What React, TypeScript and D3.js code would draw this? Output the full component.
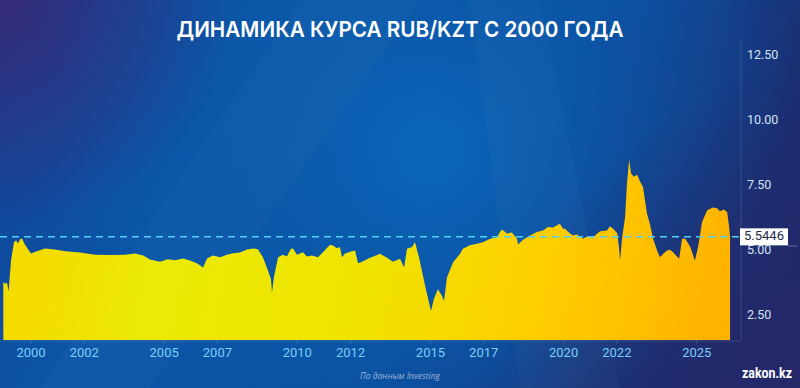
import React from "react";
import * as d3 from "d3";

const TITLE = "ДИНАМИКА КУРСА RUB/KZT С 2000 ГОДА";
const SOURCE = "По данным Investing";
const LOGO = "zakon.kz";
const CURRENT_VALUE = 5.5446;

const years: number[] = [
  1998.96, 1999.02, 1999.1, 1999.16, 1999.25, 1999.36, 1999.44, 1999.51, 1999.59, 1999.66, 1999.77,
  2000.0, 2000.19, 2000.53, 2000.9, 2001.28, 2001.84, 2002.4, 2002.97, 2003.53, 2003.91, 2004.21,
  2004.47, 2004.84, 2005.14, 2005.41, 2005.71, 2005.97, 2006.23, 2006.46, 2006.61, 2006.83, 2007.1,
  2007.36, 2007.59, 2007.85, 2008.11, 2008.34, 2008.52, 2008.71, 2008.9, 2009.01, 2009.05, 2009.13,
  2009.28, 2009.46, 2009.61, 2009.76, 2009.84, 2009.99, 2010.21, 2010.36, 2010.55, 2010.78, 2010.96,
  2011.23, 2011.34, 2011.49, 2011.6, 2011.68, 2011.79, 2012.05, 2012.17, 2012.28, 2012.43, 2012.73,
  2013.11, 2013.37, 2013.59, 2013.86, 2014.01, 2014.12, 2014.31, 2014.42, 2014.57, 2014.8, 2015.02,
  2015.13, 2015.28, 2015.43, 2015.51, 2015.62, 2015.85, 2016.11, 2016.22, 2016.48, 2016.75, 2016.97,
  2017.24, 2017.5, 2017.61, 2017.69, 2017.87, 2018.06, 2018.25, 2018.29, 2018.48, 2018.74, 2019.0,
  2019.23, 2019.41, 2019.6, 2019.86, 2019.98, 2020.05, 2020.24, 2020.35, 2020.5, 2020.73, 2020.88,
  2021.1, 2021.37, 2021.63, 2021.74, 2021.86, 2022.01, 2022.08, 2022.12, 2022.2, 2022.31, 2022.38,
  2022.46, 2022.53, 2022.64, 2022.76, 2022.87, 2022.98, 2023.13, 2023.24, 2023.36, 2023.51, 2023.62,
  2023.74, 2023.89, 2024.0, 2024.11, 2024.26, 2024.34, 2024.45, 2024.57, 2024.76, 2024.93, 2025.05,
  2025.2, 2025.39, 2025.61, 2025.76, 2025.87, 2026.02, 2026.14, 2026.21, 2026.25,
];

const rates: number[] = [
  3.82, 3.74, 3.78, 3.44, 4.63, 5.34, 5.41, 5.29, 5.45, 5.48, 5.25,
  4.9, 4.98, 5.1, 5.06, 4.99, 4.94, 4.86, 4.85, 4.86, 4.9, 4.83,
  4.67, 4.59, 4.68, 4.64, 4.71, 4.63, 4.53, 4.37, 4.71, 4.83, 4.76,
  4.86, 4.91, 4.94, 5.06, 5.1, 5.07, 4.76, 4.24, 3.92, 3.4, 4.05,
  4.76, 4.86, 4.79, 5.09, 5.1, 4.86, 4.95, 4.79, 4.83, 4.76, 4.95,
  5.24, 5.21, 5.11, 5.15, 4.76, 4.9, 4.99, 5.02, 4.53, 4.59, 4.74,
  4.89, 4.74, 4.59, 4.7, 4.37, 5.09, 5.15, 5.34, 4.76, 3.66, 2.69,
  3.15, 3.53, 3.28, 3.08, 3.98, 4.57, 4.89, 5.09, 5.22, 5.28, 5.34,
  5.47, 5.53, 5.73, 5.83, 5.67, 5.71, 5.47, 5.25, 5.43, 5.6, 5.73,
  5.79, 5.92, 5.9, 6.05, 5.86, 5.86, 5.67, 5.6, 5.63, 5.47, 5.56,
  5.53, 5.76, 5.79, 5.95, 5.86, 5.69, 5.15, 4.63, 5.53, 6.31, 7.6,
  8.51, 7.99, 7.86, 7.93, 7.67, 7.47, 6.44, 6.05, 5.47, 5.02, 4.76,
  4.89, 5.02, 5.05, 4.95, 4.79, 4.7, 5.47, 5.47, 5.15, 4.63, 5.15,
  6.12, 6.57, 6.67, 6.64, 6.53, 6.6, 6.5, 5.99, 5.5446,
];

const xTickYears: number[] = [2000, 2002, 2005, 2007, 2010, 2012, 2015, 2017, 2020, 2022, 2025];
const yTickValues: number[] = [2.5, 5, 7.5, 10, 12.5];

const W = 800;
const H = 388;
const PLOT_BOTTOM = 340;
const AXIS_X = 741;

export default function App() {
  const data = years.map((yr, i) => ({ yr, v: rates[i] }));
  const x = d3.scaleLinear().domain([2000, 2025]).range([31, 31 + 25 * 26.63]);
  const y = d3.scaleLinear().domain([2.5, 12.5]).range([316, 56]);

  const area = d3
    .area<{ yr: number; v: number }>()
    .x((d) => x(d.yr))
    .y0(PLOT_BOTTOM)
    .y1((d) => y(d.v))
    .curve(d3.curveLinear);

  const lastX = x(years[years.length - 1]);
  const curY = y(CURRENT_VALUE);

  return (
    <svg
      width={W}
      height={H}
      viewBox={`0 0 ${W} ${H}`}
      style={{ position: "absolute", left: 0, top: 0, display: "block" }}
    >
      <defs>
        <linearGradient id="bgBase" x1="0" y1="0" x2="1" y2="0.3">
          <stop offset="0" stopColor="#123f93" />
          <stop offset="0.35" stopColor="#0b56a8" />
          <stop offset="0.7" stopColor="#0d4d9e" />
          <stop offset="1" stopColor="#1d2a6c" />
        </linearGradient>
        <radialGradient id="bgGlow" cx="430" cy="150" r="380" gradientUnits="userSpaceOnUse">
          <stop offset="0" stopColor="#0a66bb" stopOpacity="0.95" />
          <stop offset="0.55" stopColor="#0a5aab" stopOpacity="0.5" />
          <stop offset="1" stopColor="#0a5aab" stopOpacity="0" />
        </radialGradient>
        <radialGradient id="cornerTL" cx="0" cy="0" r="230" gradientUnits="userSpaceOnUse">
          <stop offset="0" stopColor="#3a2a78" stopOpacity="0.9" />
          <stop offset="1" stopColor="#3a2a78" stopOpacity="0" />
        </radialGradient>
        <radialGradient id="cornerBR" cx="800" cy="388" r="300" gradientUnits="userSpaceOnUse">
          <stop offset="0" stopColor="#262868" stopOpacity="0.9" />
          <stop offset="1" stopColor="#262868" stopOpacity="0" />
        </radialGradient>
        <linearGradient
          id="areaFill"
          gradientUnits="userSpaceOnUse"
          x1="60"
          y1="200"
          x2="730"
          y2="345"
        >
          <stop offset="0" stopColor="#f4dc00" />
          <stop offset="0.15" stopColor="#ebe906" />
          <stop offset="0.45" stopColor="#efe400" />
          <stop offset="0.72" stopColor="#ffcd00" />
          <stop offset="1" stopColor="#ffb000" />
        </linearGradient>
      </defs>

      <rect x={0} y={0} width={W} height={H} fill="url(#bgBase)" />
      <rect x={0} y={0} width={W} height={H} fill="url(#bgGlow)" />
      <rect x={0} y={0} width={W} height={H} fill="url(#cornerTL)" />
      <rect x={0} y={0} width={W} height={H} fill="url(#cornerBR)" />
      <polygon points="300,0 420,0 150,388 40,388" fill="#ffffff" opacity={0.025} />
      <polygon points="470,0 540,0 620,388 520,388" fill="#ffffff" opacity={0.025} />

      <text
        x={400}
        y={37}
        textAnchor="middle"
        fill="#ffffff"
        fontFamily="Inter, 'Open Sans', sans-serif"
        fontWeight={600}
        fontSize={22}
        textLength={447}
        lengthAdjust="spacingAndGlyphs"
      >
        {TITLE}
      </text>

      <line x1={AXIS_X} x2={AXIS_X} y1={40} y2={PLOT_BOTTOM} stroke="#ffffff" strokeOpacity={0.12} />
      <line x1={0} x2={AXIS_X} y1={PLOT_BOTTOM + 1} y2={PLOT_BOTTOM + 1} stroke="#ffffff" strokeOpacity={0.12} />

      {yTickValues.map((v) => (
        <text
          key={v}
          x={747}
          y={y(v)}
          dominantBaseline="middle"
          fill="#d6e2f4"
          fontFamily="Roboto, sans-serif"
          fontSize={12.5}
        >
          {v.toFixed(2)}
        </text>
      ))}

      <path d={area(data) ?? ""} fill="url(#areaFill)" />

      {xTickYears.map((yr) => (
        <g key={yr}>
          <line x1={x(yr)} x2={x(yr)} y1={PLOT_BOTTOM} y2={PLOT_BOTTOM + 4} stroke="#ffffff" strokeOpacity={0.15} />
          <text
            x={x(yr)}
            y={357}
            textAnchor="middle"
            fill="#78cff7"
            fontFamily="Roboto, sans-serif"
            fontSize={13}
          >
            {yr}
          </text>
        </g>
      ))}

      <line
        x1={0}
        x2={AXIS_X}
        y1={curY}
        y2={curY}
        stroke="#52d2f2"
        strokeWidth={1.5}
        strokeDasharray="7 5"
      />
      <line x1={788} x2={798} y1={246} y2={246} stroke="#ffffff" strokeOpacity={0.3} />
      <rect x={740} y={curY - 8.5} width={48} height={17} fill="#ffffff" />
      <text
        x={764}
        y={curY}
        textAnchor="middle"
        dominantBaseline="middle"
        fill="#1d2b4a"
        fontFamily="Roboto, sans-serif"
        fontSize={13}
      >
        {CURRENT_VALUE.toFixed(4)}
      </text>

      <text
        x={400}
        y={379}
        textAnchor="middle"
        fill="#9fb3d8"
        fontFamily="'Open Sans', sans-serif"
        fontStyle="italic"
        fontSize={8.5}
      >
        {SOURCE}
      </text>

      <text
        x={792}
        y={378}
        textAnchor="end"
        fill="#ffffff"
        fontFamily="Roboto, sans-serif"
        fontWeight={700}
        fontSize={14}
        textLength={50}
        lengthAdjust="spacingAndGlyphs"
      >
        {LOGO}
      </text>
    </svg>
  );
}
